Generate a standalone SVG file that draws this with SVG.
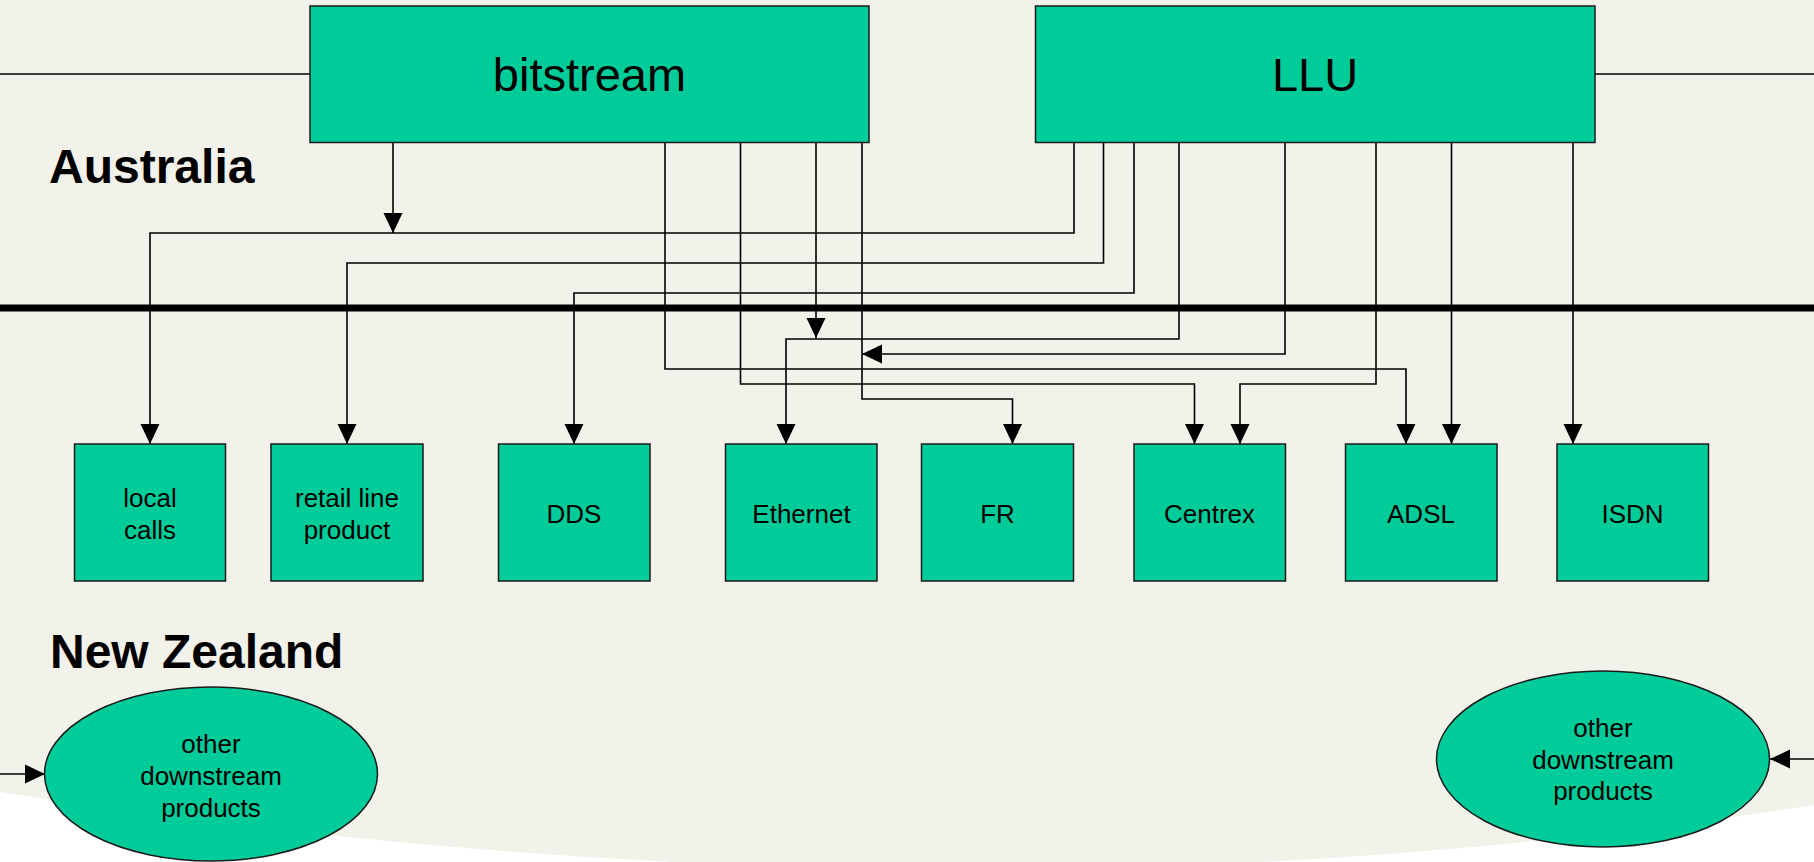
<svg xmlns="http://www.w3.org/2000/svg" width="1814" height="862" viewBox="0 0 1814 862">
<style>
.box{fill:#00CC99;stroke:#1a1a1a;stroke-width:1.5}
.big{font-family:"Liberation Sans",Arial,sans-serif;font-size:47px;fill:#000;text-anchor:middle}
.lbl{font-family:"Liberation Sans",Arial,sans-serif;font-size:26px;fill:#000;text-anchor:middle}
.title{font-family:"Liberation Sans",Arial,sans-serif;font-size:48px;font-weight:bold;fill:#000}
.c{fill:none;stroke:#000;stroke-width:1.6}
.ca{fill:none;stroke:#000;stroke-width:1.6;marker-end:url(#ah)}
</style>
<defs>
<marker id="ah" markerUnits="userSpaceOnUse" markerWidth="20" markerHeight="20" viewBox="0 0 20 20" refX="20" refY="10" orient="auto">
<path d="M0,0.5 L20,10 L0,19.5 z" fill="#000"/>
</marker>
</defs>
<rect x="0" y="0" width="1814" height="862" fill="#ffffff"/>
<path d="M0,0 H1814 V805 Q950,940 0,792 Z" fill="#F2F1EA"/>
<line x1="0" y1="308" x2="1814" y2="308" stroke="#000" stroke-width="7"/>
<text class="title" x="49" y="183">Australia</text>
<text class="title" x="50" y="668">New Zealand</text>
<g id="connectors">
<path class="c" d="M0,74 H310"/>
<path class="c" d="M1595,74 H1814"/>
<path class="ca" d="M393,142 V233"/>
<path class="ca" d="M1074,142 V233 H150 V444"/>
<path class="ca" d="M1103.5,142 V263 H347 V444"/>
<path class="ca" d="M1134,142 V293 H574 V444"/>
<path class="ca" d="M1179,142 V339 H786 V444"/>
<path class="ca" d="M816,142 V338"/>
<path class="ca" d="M1285,142 V354 H862"/>
<path class="ca" d="M862,142 V399 H1012.5 V444"/>
<path class="ca" d="M665,142 V369 H1406 V444"/>
<path class="ca" d="M740.5,142 V384 H1194.5 V444"/>
<path class="ca" d="M1376,142 V384 H1240 V444"/>
<path class="ca" d="M1451.5,142 V444"/>
<path class="ca" d="M1573,142 V444"/>
<path class="ca" d="M0,774 H45"/>
<path class="ca" d="M1814,759 H1770"/>
</g>
<g id="bitstream"><rect class="box" x="310" y="6" width="559" height="136.5"/><text class="big" x="589.5" y="91">bitstream</text></g>
<g id="llu"><rect class="box" x="1035.5" y="6" width="559.5" height="136.5"/><text class="big" x="1315" y="91">LLU</text></g>
<g id="local-calls"><rect class="box" x="74.5" y="444" width="151" height="137"/><text class="lbl" x="150" y="507">local</text><text class="lbl" x="150" y="538.5">calls</text></g>
<g id="retail-line-product"><rect class="box" x="271" y="444" width="152" height="137"/><text class="lbl" x="347" y="507">retail line</text><text class="lbl" x="347" y="538.5">product</text></g>
<g id="dds"><rect class="box" x="498.5" y="444" width="151.5" height="137"/><text class="lbl" x="574" y="522.5">DDS</text></g>
<g id="ethernet"><rect class="box" x="725.5" y="444" width="151.5" height="137"/><text class="lbl" x="801.5" y="522.5">Ethernet</text></g>
<g id="fr"><rect class="box" x="921.5" y="444" width="152" height="137"/><text class="lbl" x="997.5" y="522.5">FR</text></g>
<g id="centrex"><rect class="box" x="1134" y="444" width="151.5" height="137"/><text class="lbl" x="1209.5" y="522.5">Centrex</text></g>
<g id="adsl"><rect class="box" x="1345.5" y="444" width="151.5" height="137"/><text class="lbl" x="1421" y="522.5">ADSL</text></g>
<g id="isdn"><rect class="box" x="1557" y="444" width="151.5" height="137"/><text class="lbl" x="1632.5" y="522.5">ISDN</text></g>
<g id="nz-left"><ellipse class="box" cx="211" cy="774" rx="166.5" ry="87"/><text class="lbl" x="211" y="753">other</text><text class="lbl" x="211" y="785">downstream</text><text class="lbl" x="211" y="817">products</text></g>
<g id="nz-right"><ellipse class="box" cx="1603" cy="759" rx="166.5" ry="88"/><text class="lbl" x="1603" y="737">other</text><text class="lbl" x="1603" y="768.5">downstream</text><text class="lbl" x="1603" y="800">products</text></g>
</svg>
